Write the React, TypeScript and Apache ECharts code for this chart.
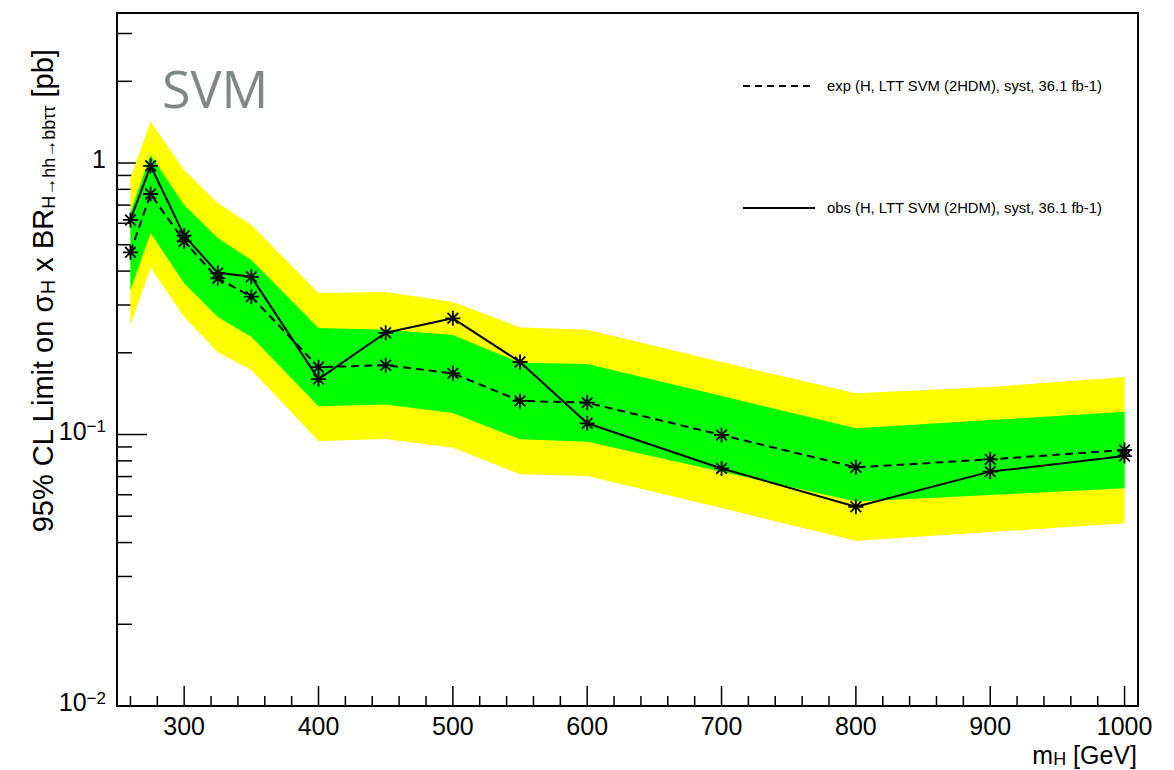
import React, { useEffect, useRef } from "react";
import * as echarts from "echarts";

// ---- data ----
const masses = [260, 275, 300, 325, 350, 400, 450, 500, 550, 600, 700, 800, 900, 1000];
const expected = [0.469, 0.769, 0.515, 0.376, 0.322, 0.177, 0.18, 0.168, 0.133, 0.131, 0.0996, 0.0757, 0.081, 0.0877];
const observed = [0.617, 0.977, 0.54, 0.394, 0.381, 0.16, 0.237, 0.268, 0.185, 0.11, 0.075, 0.0542, 0.073, 0.0833];
const plus2 = [0.881, 1.419, 0.942, 0.712, 0.591, 0.332, 0.335, 0.308, 0.248, 0.243, 0.185, 0.1418, 0.1496, 0.1628];
const plus1 = [0.66, 1.07, 0.7, 0.529, 0.439, 0.247, 0.243, 0.2325, 0.184, 0.182, 0.1386, 0.1054, 0.113, 0.1213];
const minus1 = [0.34, 0.552, 0.361, 0.271, 0.229, 0.127, 0.129, 0.12, 0.096, 0.0941, 0.0729, 0.0566, 0.0599, 0.0634];
const minus2 = [0.253, 0.411, 0.271, 0.201, 0.173, 0.0946, 0.0962, 0.0894, 0.0714, 0.0703, 0.0536, 0.0406, 0.0437, 0.0471];

// ---- axes ----
const xMin = 250;
const xMax = 1010;
const yMin = 0.01;
const yMax = 3.57;
const xMajorTicks = [300, 400, 500, 600, 700, 800, 900, 1000];
const xTickLabels = ["300", "400", "500", "600", "700", "800", "900", "1000"];
const xMinorTicks = [260, 280, 320, 340, 360, 380, 420, 440, 460, 480, 520, 540, 560, 580, 620, 640, 660, 680, 720, 740, 760, 780, 820, 840, 860, 880, 920, 940, 960, 980];
const yMajorTicks = [0.01, 0.1, 1];
const yTickLabels = ["{b|10}{s|\u22122}", "{b|10}{s|\u22121}", "{b|1}"];
const yMinorTicks = [0.02, 0.03, 0.04, 0.05, 0.06, 0.07, 0.08, 0.09, 0.2, 0.3, 0.4, 0.5, 0.6, 0.7, 0.8, 0.9, 2, 3];

const legendExp = "exp (H, LTT SVM (2HDM), syst, 36.1 fb-1)";
const legendObs = "obs (H, LTT SVM (2HDM), syst, 36.1 fb-1)";

const FONT = "'Liberation Sans', Arial, Helvetica, sans-serif";
const STAR = "path://M10 0L10 20M0 10L20 10M2.93 2.93L17.07 17.07M17.07 2.93L2.93 17.07";

function bandSeries(upper: number[], lower: number[], color: string, z: number) {
  return {
    type: "custom",
    z,
    silent: true,
    data: [[masses[0], expected[0]]],
    renderItem: (_p: any, api: any) => {
      const up = masses.map((m, i) => api.coord([m, upper[i]]));
      const lo = masses.map((m, i) => api.coord([m, lower[i]])).reverse();
      return {
        type: "polygon",
        shape: { points: up.concat(lo) },
        style: { fill: color, stroke: null },
      };
    },
  };
}

export default function App() {
  const ref = useRef<HTMLDivElement>(null);
  useEffect(() => {
    if (!ref.current) return;
    const chart = echarts.init(ref.current, null, { renderer: "svg" });
    const option: any = {
      animation: false,
      backgroundColor: "#ffffff",
      grid: {
        left: 117,
        right: 36,
        top: 13,
        bottom: 64,
        show: true,
        borderColor: "#000",
        borderWidth: 2,
        backgroundColor: "transparent",
      },
      xAxis: {
        type: "value",
        min: xMin,
        max: xMax,
        axisLine: { show: false },
        axisTick: { show: false },
        axisLabel: { show: false },
        splitLine: { show: false },
      },
      yAxis: {
        type: "log",
        logBase: 10,
        min: yMin,
        max: yMax,
        axisLine: { show: false },
        axisTick: { show: false },
        axisLabel: { show: false },
        splitLine: { show: false },
      },
      graphic: [
        {
          type: "text",
          x: 162,
          y: 87,
          style: {
            text: "SVM",
            fill: "#7f8787",
            fontSize: 52,
            fontFamily: "'Open Sans', sans-serif",
            align: "left",
            verticalAlign: "middle",
          },
        },
        {
          type: "text",
          x: 43,
          y: 291,
          rotation: Math.PI / 2,
          style: {
            text: "{a|95% CL Limit on \u03c3}{s|H}{a| x BR}{t|H\u2192hh\u2192bb\u03c4\u03c4}{a| [pb]}",
            align: "center",
            verticalAlign: "middle",
            fill: "#000",
            rich: {
              a: { fontSize: 29, fontFamily: FONT, lineHeight: 29, padding: [0, 0, 8, 0], verticalAlign: "top", fill: "#000" },
              s: { fontSize: 20, fontFamily: FONT, lineHeight: 20, verticalAlign: "bottom", fill: "#000" },
              t: { fontSize: 18, fontFamily: FONT, lineHeight: 18, verticalAlign: "bottom", fill: "#000" },
            },
          },
        },
        {
          type: "text",
          x: 1137,
          y: 755,
          style: {
            text: "{a|m}{s|H}{a| [GeV]}",
            align: "right",
            verticalAlign: "middle",
            fill: "#000",
            rich: {
              a: { fontSize: 25, fontFamily: FONT, lineHeight: 25, padding: [0, 0, 7, 0], verticalAlign: "top", fill: "#000" },
              s: { fontSize: 18, fontFamily: FONT, lineHeight: 18, verticalAlign: "bottom", fill: "#000" },
            },
          },
        },
        {
          type: "line",
          shape: { x1: 743, y1: 86, x2: 815, y2: 86 },
          style: { stroke: "#000", lineWidth: 1.8, lineDash: [7, 5] },
        },
        {
          type: "text",
          x: 827,
          y: 86,
          style: { text: legendExp, fontSize: 14.8, fontFamily: FONT, fill: "#000", align: "left", verticalAlign: "middle" },
        },
        {
          type: "line",
          shape: { x1: 743, y1: 208, x2: 815, y2: 208 },
          style: { stroke: "#000", lineWidth: 1.8 },
        },
        {
          type: "text",
          x: 827,
          y: 208,
          style: { text: legendObs, fontSize: 14.8, fontFamily: FONT, fill: "#000", align: "left", verticalAlign: "middle" },
        },
      ],
      series: [
        // x major ticks + labels
        {
          type: "custom",
          z: 1,
          silent: true,
          data: xMajorTicks.map((v) => [v, yMin]),
          renderItem: (params: any, api: any) => {
            const p = api.coord([api.value(0), yMin]);
            return {
              type: "group",
              children: [
                { type: "line", shape: { x1: p[0], y1: p[1], x2: p[0], y2: p[1] - 20 }, style: { stroke: "#000", lineWidth: 1.5 } },
                {
                  type: "text",
                  x: p[0],
                  y: p[1] + 7,
                  style: { text: xTickLabels[params.dataIndex], fontSize: 25, fontFamily: FONT, fill: "#000", align: "center", verticalAlign: "top" },
                },
              ],
            };
          },
        },
        // x minor ticks
        {
          type: "custom",
          z: 1,
          silent: true,
          data: xMinorTicks.map((v) => [v, yMin]),
          renderItem: (_params: any, api: any) => {
            const p = api.coord([api.value(0), yMin]);
            return { type: "line", shape: { x1: p[0], y1: p[1], x2: p[0], y2: p[1] - 10 }, style: { stroke: "#000", lineWidth: 1.5 } };
          },
        },
        // y major ticks + labels
        {
          type: "custom",
          z: 1,
          silent: true,
          data: yMajorTicks.map((v) => [xMin, v]),
          renderItem: (params: any, api: any) => {
            const p = api.coord([xMin, api.value(1)]);
            return {
              type: "group",
              children: [
                { type: "line", shape: { x1: p[0], y1: p[1], x2: p[0] + 30, y2: p[1] }, style: { stroke: "#000", lineWidth: 1.5 } },
                {
                  type: "text",
                  x: p[0] - 11,
                  y: p[1] - 4,
                  style: {
                    text: yTickLabels[params.dataIndex],
                    align: "right",
                    verticalAlign: "middle",
                    fill: "#000",
                    rich: {
                      b: { fontSize: 25, fontFamily: FONT, lineHeight: 25, padding: [8, 0, 0, 0], verticalAlign: "bottom", fill: "#000" },
                      s: { fontSize: 17, fontFamily: FONT, lineHeight: 17, verticalAlign: "top", fill: "#000" },
                    },
                  },
                },
              ],
            };
          },
        },
        // y minor ticks
        {
          type: "custom",
          z: 1,
          silent: true,
          data: yMinorTicks.map((v) => [xMin, v]),
          renderItem: (_params: any, api: any) => {
            const p = api.coord([xMin, api.value(1)]);
            return { type: "line", shape: { x1: p[0], y1: p[1], x2: p[0] + 15, y2: p[1] }, style: { stroke: "#000", lineWidth: 1.5 } };
          },
        },
        bandSeries(plus2, minus2, "#ffff00", 2),
        bandSeries(plus1, minus1, "#00ff00", 3),
        {
          type: "line",
          name: "exp",
          z: 4,
          data: masses.map((m, i) => [m, expected[i]]),
          symbol: STAR,
          symbolSize: 15,
          showAllSymbol: true,
          itemStyle: { color: "#000", borderColor: "#000", borderWidth: 1.8 },
          lineStyle: { color: "#000", width: 2, type: [8, 5] },
        },
        {
          type: "line",
          name: "obs",
          z: 5,
          data: masses.map((m, i) => [m, observed[i]]),
          symbol: STAR,
          symbolSize: 15,
          showAllSymbol: true,
          itemStyle: { color: "#000", borderColor: "#000", borderWidth: 1.8 },
          lineStyle: { color: "#000", width: 2 },
        },
      ],
    };
    chart.setOption(option);
    return () => chart.dispose();
  }, []);
  return <div ref={ref} style={{ width: 1174, height: 770, position: "absolute", left: 0, top: 0 }} />;
}
